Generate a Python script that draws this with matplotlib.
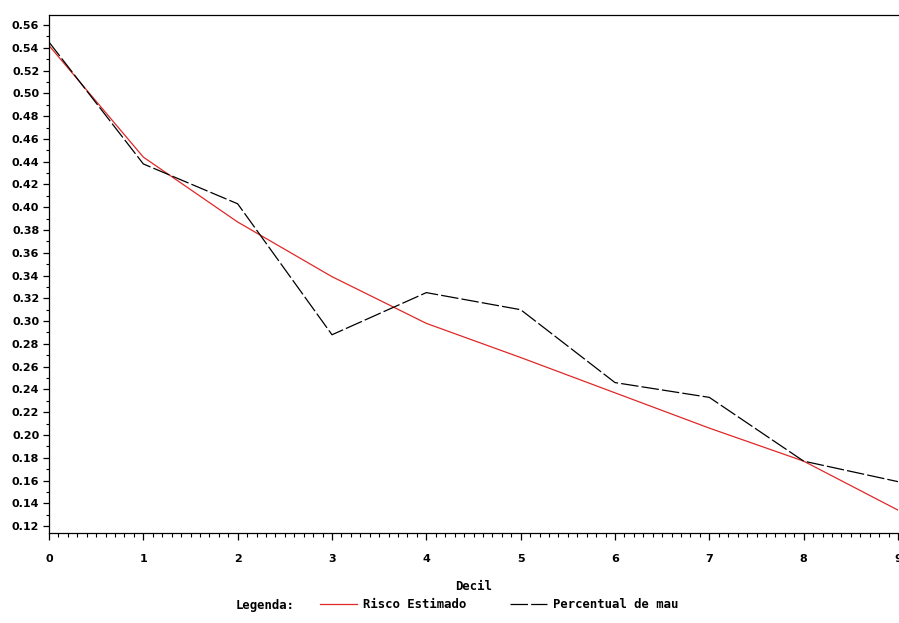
import matplotlib
matplotlib.use("Agg")
import matplotlib.pyplot as plt
from matplotlib.ticker import MultipleLocator, FormatStrFormatter

# Data
decis = [0, 1, 2, 3, 4, 5, 6, 7, 8, 9]
risco_estimado = [0.542, 0.444, 0.387, 0.339, 0.298, 0.268, 0.237, 0.206, 0.177, 0.134]
percentual_mau = [0.545, 0.438, 0.403, 0.288, 0.325, 0.310, 0.246, 0.233, 0.177, 0.159]
y_ticks = [0.12 + 0.02 * i for i in range(23)]

plt.rcParams['font.family'] = 'DejaVu Sans'
plt.rcParams['font.weight'] = 'bold'
mono = {'family': 'DejaVu Sans Mono', 'weight': 'bold', 'size': 8.8}

fig = plt.figure(figsize=(8.99, 6.23), dpi=100)
ax = fig.add_axes([49 / 899, 1 - 533 / 623, 849 / 899, 518 / 623])

ax.plot(decis, risco_estimado, color='#e02828', lw=0.9, label='Risco Estimado')
ax.plot(decis, percentual_mau, color='black', lw=0.9, dashes=(14, 2.5),
        label='Percentual de mau')

ax.set_xlim(0, 9)
ax.set_ylim(0.1139, 0.5688)
ax.set_yticks(y_ticks)
ax.yaxis.set_major_formatter(FormatStrFormatter('%.2f'))
ax.yaxis.set_minor_locator(MultipleLocator(0.01))
ax.xaxis.set_major_locator(MultipleLocator(1))
ax.xaxis.set_minor_locator(MultipleLocator(0.1))

ax.spines['right'].set_visible(False)
for s in ax.spines.values():
    s.set_linewidth(0.9)

ax.tick_params(axis='y', which='major', length=4, width=0.9, pad=3, labelsize=8)
ax.tick_params(axis='y', which='minor', length=2.5, width=0.8)
ax.tick_params(axis='x', which='major', length=5, width=0.9, pad=10, labelsize=8)
ax.tick_params(axis='x', which='minor', length=3, width=0.8)
for lab in ax.get_xticklabels() + ax.get_yticklabels():
    lab.set_fontweight('bold')

ax.set_xlabel('Decil', fontdict=mono, labelpad=12)

fig.text(236 / 899, 1 - 605 / 623, 'Legenda:', fontdict=mono,
         va='center', ha='left')
leg = fig.legend(loc='center left', bbox_to_anchor=(320 / 899, 1 - 605 / 623),
                 ncol=2, frameon=False, handlelength=3.0, borderpad=0,
                 handletextpad=0.5, columnspacing=3.6, borderaxespad=0,
                 prop=mono)

fig.savefig('out.png', dpi=100)
